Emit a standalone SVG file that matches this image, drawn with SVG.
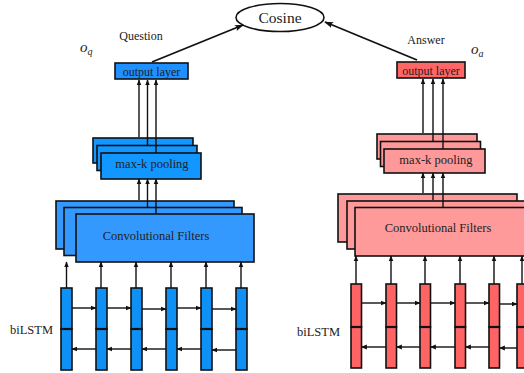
<svg xmlns="http://www.w3.org/2000/svg" width="524" height="373" viewBox="0 0 524 373" font-family="'Liberation Serif', 'DejaVu Serif', serif">
  <style>
    text { font-family: "Liberation Serif", "DejaVu Serif", serif; fill: #222; }
    .box { stroke: #111; stroke-width: 1.6; }
    .bOut { fill: #1e90ff; }
    .bPool { fill: #1296ff; }
    .bConv { fill: #3399ff; }
    .bCell { fill: #0f90f5; }
    .rOut { fill: #ff6666; }
    .rPool { fill: #ff9999; }
    .rConv { fill: #ff9a9a; }
    .rCell { fill: #ff6464; }
    .ln { stroke: #111; stroke-width: 1.4; fill: none; }
    .lnT { stroke: #111; stroke-width: 1.8; fill: none; }
    .div { stroke: #111; stroke-width: 2.2; }
  </style>
  <defs>
    <marker id="ah" viewBox="0 0 10 10" refX="9" refY="5" markerWidth="6" markerHeight="6" orient="auto" markerUnits="userSpaceOnUse">
      <path d="M0,1 L10,5 L0,9 z" fill="#111"/>
    </marker>
    <marker id="ahL" viewBox="0 0 10 10" refX="9" refY="5" markerWidth="9" markerHeight="9" orient="auto" markerUnits="userSpaceOnUse">
      <path d="M0,1.5 L10,5 L0,8.5 L2,5 z" fill="#111"/>
    </marker>
  </defs>

  <!-- similarity node -->
  <g id="cosine">
    <ellipse cx="280" cy="17.5" rx="44" ry="14" fill="#fff" stroke="#111" stroke-width="1.6"/>
    <text x="280" y="23" font-size="15.5" text-anchor="middle">Cosine</text>
  </g>

  <!-- labels -->
  <g id="labels">
    <text x="141" y="40" font-size="12" text-anchor="middle">Question</text>
    <text x="426" y="44" font-size="12" text-anchor="middle">Answer</text>
    <text x="80" y="52" font-size="15" font-style="italic">o<tspan font-size="10" dy="3">q</tspan></text>
    <text x="471" y="54" font-size="15" font-style="italic">o<tspan font-size="10" dy="3">a</tspan></text>
    <text x="10" y="334" font-size="12.5">biLSTM</text>
    <text x="297" y="336" font-size="12.5">biLSTM</text>
  </g>

  <!-- question tower -->
  <g id="q-output">
    <rect class="box bOut" x="115" y="63" width="73" height="16"/>
    <text x="151.5" y="75.5" font-size="12" text-anchor="middle">output layer</text>
  </g>
  <g id="q-pooling">
    <rect class="box bPool" x="93" y="138" width="100" height="25"/>
    <rect class="box bPool" x="97" y="145.5" width="100" height="25"/>
    <rect class="box bPool" x="101" y="153" width="100" height="26"/>
    <text x="152" y="168" font-size="12.5" text-anchor="middle">max-k pooling</text>
  </g>
  <g id="q-conv">
    <rect class="box bConv" x="56" y="201" width="178" height="48"/>
    <rect class="box bConv" x="64" y="207.5" width="178" height="48"/>
    <rect class="box bConv" x="76" y="214" width="178" height="48"/>
    <text x="156" y="240" font-size="12.5" text-anchor="middle">Convolutional Filters</text>
  </g>
  <g id="q-bilstm">
    <g transform="translate(61,0)">
      <rect class="box bCell" x="0" y="288" width="11" height="41"/><rect class="box bCell" x="0" y="329" width="11" height="41"/>
      <line class="div" x1="0" y1="329" x2="11" y2="329"/>
    </g>
    <g transform="translate(96,0)">
      <rect class="box bCell" x="0" y="288" width="11" height="41"/><rect class="box bCell" x="0" y="329" width="11" height="41"/>
      <line class="div" x1="0" y1="329" x2="11" y2="329"/>
    </g>
    <g transform="translate(131,0)">
      <rect class="box bCell" x="0" y="288" width="11" height="41"/><rect class="box bCell" x="0" y="329" width="11" height="41"/>
      <line class="div" x1="0" y1="329" x2="11" y2="329"/>
    </g>
    <g transform="translate(166,0)">
      <rect class="box bCell" x="0" y="288" width="11" height="41"/><rect class="box bCell" x="0" y="329" width="11" height="41"/>
      <line class="div" x1="0" y1="329" x2="11" y2="329"/>
    </g>
    <g transform="translate(201,0)">
      <rect class="box bCell" x="0" y="288" width="11" height="41"/><rect class="box bCell" x="0" y="329" width="11" height="41"/>
      <line class="div" x1="0" y1="329" x2="11" y2="329"/>
    </g>
    <g transform="translate(236,0)">
      <rect class="box bCell" x="0" y="288" width="11" height="41"/><rect class="box bCell" x="0" y="329" width="11" height="41"/>
      <line class="div" x1="0" y1="329" x2="11" y2="329"/>
    </g>
  </g>

  <!-- answer tower -->
  <g id="a-output">
    <rect class="box rOut" x="397" y="62" width="68" height="16"/>
    <text x="431" y="74.5" font-size="12" text-anchor="middle">output layer</text>
  </g>
  <g id="a-pooling">
    <rect class="box rPool" x="377" y="134" width="100" height="25"/>
    <rect class="box rPool" x="380.5" y="141.5" width="100" height="25"/>
    <rect class="box rPool" x="384" y="149" width="101" height="24"/>
    <text x="436" y="164" font-size="12.5" text-anchor="middle">max-k pooling</text>
  </g>
  <g id="a-conv">
    <rect class="box rConv" x="338" y="194" width="179" height="48"/>
    <rect class="box rConv" x="347" y="201" width="179" height="48"/>
    <rect class="box rConv" x="355" y="207.5" width="179" height="48.5"/>
    <text x="438" y="232" font-size="12.5" text-anchor="middle">Convolutional Filters</text>
  </g>
  <g id="a-bilstm">
    <g transform="translate(351,0)">
      <rect class="box rCell" x="0" y="284" width="10.5" height="43"/><rect class="box rCell" x="0" y="327" width="10.5" height="41"/>
      <line class="div" x1="0" y1="327" x2="10.5" y2="327"/>
    </g>
    <g transform="translate(386,0)">
      <rect class="box rCell" x="0" y="284" width="10.5" height="43"/><rect class="box rCell" x="0" y="327" width="10.5" height="41"/>
      <line class="div" x1="0" y1="327" x2="10.5" y2="327"/>
    </g>
    <g transform="translate(420,0)">
      <rect class="box rCell" x="0" y="284" width="10.5" height="43"/><rect class="box rCell" x="0" y="327" width="10.5" height="41"/>
      <line class="div" x1="0" y1="327" x2="10.5" y2="327"/>
    </g>
    <g transform="translate(455,0)">
      <rect class="box rCell" x="0" y="284" width="10.5" height="43"/><rect class="box rCell" x="0" y="327" width="10.5" height="41"/>
      <line class="div" x1="0" y1="327" x2="10.5" y2="327"/>
    </g>
    <g transform="translate(489,0)">
      <rect class="box rCell" x="0" y="284" width="10.5" height="43"/><rect class="box rCell" x="0" y="327" width="10.5" height="41"/>
      <line class="div" x1="0" y1="327" x2="10.5" y2="327"/>
    </g>
    <g transform="translate(517,0)">
      <rect class="box rCell" x="0" y="284" width="10.5" height="43"/><rect class="box rCell" x="0" y="327" width="10.5" height="41"/>
      <line class="div" x1="0" y1="327" x2="10.5" y2="327"/>
    </g>
  </g>

  <!-- connectors -->
  <g id="connectors">
    <!-- to cosine -->
    <line class="lnT" x1="152" y1="62" x2="243" y2="25" marker-end="url(#ahL)"/>
    <line class="lnT" x1="417" y1="60" x2="325" y2="22" marker-end="url(#ahL)"/>

    <!-- question: pooling to output -->
    <line class="ln" x1="139" y1="137" x2="139" y2="80" marker-end="url(#ah)"/>
    <line class="ln" x1="147.5" y1="146" x2="147.5" y2="80" marker-end="url(#ah)"/>
    <line class="ln" x1="156" y1="153" x2="156" y2="80" marker-end="url(#ah)"/>
    <!-- question: conv to pooling -->
    <line class="ln" x1="139" y1="200" x2="139" y2="179" marker-end="url(#ah)"/>
    <line class="ln" x1="147.5" y1="207" x2="147.5" y2="179" marker-end="url(#ah)"/>
    <line class="ln" x1="156" y1="214" x2="156" y2="179" marker-end="url(#ah)"/>
    <!-- question: cells to conv -->
    <line class="ln" x1="66.5" y1="288" x2="66.5" y2="262" marker-end="url(#ah)"/>
    <line class="ln" x1="101" y1="288" x2="101" y2="262" marker-end="url(#ah)"/>
    <line class="ln" x1="136" y1="288" x2="136" y2="262" marker-end="url(#ah)"/>
    <line class="ln" x1="171" y1="288" x2="171" y2="262" marker-end="url(#ah)"/>
    <line class="ln" x1="206" y1="288" x2="206" y2="262" marker-end="url(#ah)"/>
    <line class="ln" x1="241" y1="288" x2="241" y2="262" marker-end="url(#ah)"/>
    <!-- question: forward recurrence -->
    <line class="ln" x1="72" y1="308" x2="96" y2="308" marker-end="url(#ah)"/>
    <line class="ln" x1="107" y1="308" x2="131" y2="308" marker-end="url(#ah)"/>
    <line class="ln" x1="142" y1="309" x2="166" y2="309" marker-end="url(#ah)"/>
    <line class="ln" x1="177" y1="308" x2="201" y2="308" marker-end="url(#ah)"/>
    <line class="ln" x1="212" y1="309" x2="236" y2="309" marker-end="url(#ah)"/>
    <!-- question: backward recurrence -->
    <line class="ln" x1="96" y1="349" x2="72" y2="349" marker-end="url(#ah)"/>
    <line class="ln" x1="131" y1="349" x2="107" y2="349" marker-end="url(#ah)"/>
    <line class="ln" x1="166" y1="349" x2="142" y2="349" marker-end="url(#ah)"/>
    <line class="ln" x1="201" y1="349" x2="177" y2="349" marker-end="url(#ah)"/>
    <line class="ln" x1="236" y1="350" x2="212" y2="350" marker-end="url(#ah)"/>

    <!-- answer: pooling to output -->
    <line class="ln" x1="423" y1="133" x2="423" y2="79" marker-end="url(#ah)"/>
    <line class="ln" x1="433" y1="141" x2="433" y2="79" marker-end="url(#ah)"/>
    <line class="ln" x1="443" y1="149" x2="443" y2="79" marker-end="url(#ah)"/>
    <!-- answer: conv to pooling -->
    <line class="ln" x1="423" y1="193" x2="423" y2="173" marker-end="url(#ah)"/>
    <line class="ln" x1="433" y1="200" x2="433" y2="173" marker-end="url(#ah)"/>
    <line class="ln" x1="443" y1="207" x2="443" y2="173" marker-end="url(#ah)"/>
    <!-- answer: cells to conv -->
    <line class="ln" x1="356" y1="284" x2="356" y2="256" marker-end="url(#ah)"/>
    <line class="ln" x1="391" y1="284" x2="391" y2="256" marker-end="url(#ah)"/>
    <line class="ln" x1="425" y1="284" x2="425" y2="256" marker-end="url(#ah)"/>
    <line class="ln" x1="460" y1="284" x2="460" y2="256" marker-end="url(#ah)"/>
    <line class="ln" x1="494" y1="284" x2="494" y2="256" marker-end="url(#ah)"/>
    <line class="ln" x1="522" y1="284" x2="522" y2="256" marker-end="url(#ah)"/>
    <!-- answer: forward recurrence -->
    <line class="ln" x1="361.5" y1="303" x2="386" y2="303" marker-end="url(#ah)"/>
    <line class="ln" x1="396.5" y1="303" x2="420" y2="303" marker-end="url(#ah)"/>
    <line class="ln" x1="430.5" y1="303" x2="455" y2="303" marker-end="url(#ah)"/>
    <line class="ln" x1="465.5" y1="303" x2="489" y2="303" marker-end="url(#ah)"/>
    <line class="ln" x1="499.5" y1="304" x2="517" y2="304" marker-end="url(#ah)"/>
    <!-- answer: backward recurrence -->
    <line class="ln" x1="386" y1="347" x2="361.5" y2="347" marker-end="url(#ah)"/>
    <line class="ln" x1="420" y1="347" x2="396.5" y2="347" marker-end="url(#ah)"/>
    <line class="ln" x1="455" y1="347" x2="430.5" y2="347" marker-end="url(#ah)"/>
    <line class="ln" x1="489" y1="347" x2="465.5" y2="347" marker-end="url(#ah)"/>
    <line class="ln" x1="517" y1="348" x2="499.5" y2="348" marker-end="url(#ah)"/>
  </g>
</svg>
